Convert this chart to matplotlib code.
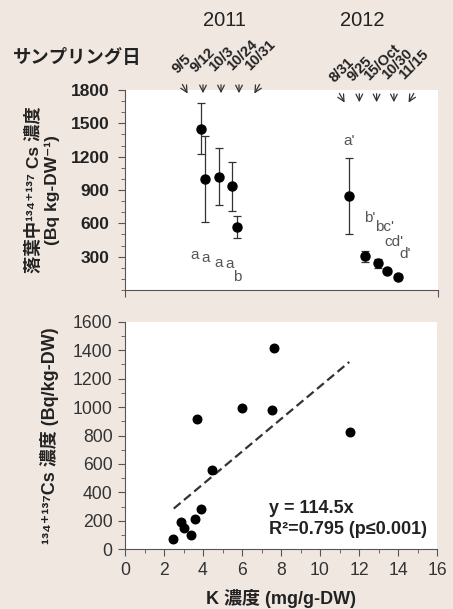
import numpy as np
import pandas as pd
import matplotlib
matplotlib.use('Agg')
import matplotlib.pyplot as plt
from matplotlib.ticker import MultipleLocator

plt.rcParams['font.family'] = ['Liberation Sans', 'Noto Sans CJK JP', 'DejaVu Sans']

# --- top panel data: litter Cs concentration by sampling date ---
dates_2011 = ['2011-09-05', '2011-09-12', '2011-10-03', '2011-10-24', '2011-10-31']
cs_2011 = [1450, 1000, 1020, 935, 570]
err_2011 = [230, 390, 255, 220, 100]
letters_2011 = ['a', 'a', 'a', 'a', 'b']
labels_2011 = ['9/5', '9/12', '10/3', '10/24', '10/31']

dates_2012 = ['2012-08-31', '2012-09-25', '2012-10-15', '2012-10-30', '2012-11-15']
cs_2012 = [845, 305, 240, 170, 120]
err_2012 = [340, 50, 40, 15, 25]
letters_2012 = ["a'", "b'", "bc'", "cd'", "d'"]
labels_2012 = ['8/31', '9/25', '15/Oct', '10/30', '11/15']

# --- bottom panel data: K vs Cs ---
k_conc = [2.45, 2.85, 3.0, 3.4, 3.6, 3.9, 3.7, 4.45, 6.0, 7.55, 7.65, 11.55]
cs_conc = [70, 190, 150, 100, 215, 280, 915, 560, 995, 980, 1415, 825]
slope = 114.5
fit_range = [2.5, 11.5]

BG = '#f0e7e1'
W, H = 453, 609
fx = lambda px: px / W
fy = lambda py: 1 - py / H

fig = plt.figure(figsize=(W / 100, H / 100), dpi=100, facecolor=BG)

# x position: day of year, 2012 shifted to sit right of 2011
gap = 234
x11 = pd.to_datetime(dates_2011).dayofyear.values
x12 = pd.to_datetime(dates_2012).dayofyear.values + gap

ax1 = fig.add_axes([fx(125), fy(290), fx(438) - fx(125), fy(90) - fy(290)])
ax1.set_facecolor('white')
for x, y, e in [(x11, cs_2011, err_2011), (x12, cs_2012, err_2012)]:
    ax1.errorbar(x, y, yerr=e, fmt='o', color='black', ms=6.5, ecolor='#333333',
                 elinewidth=0.9, capsize=3, capthick=0.9)
ax1.set_xlim(130, 617)
ax1.set_ylim(0, 1800)
ax1.yaxis.set_minor_locator(MultipleLocator(100))
ax1.set_yticks([300, 600, 900, 1200, 1500, 1800])
ax1.set_xticks([130, 617])
ax1.set_xticklabels([])
for s in ['top', 'right']:
    ax1.spines[s].set_visible(False)
for s in ['left', 'bottom']:
    ax1.spines[s].set_color('#555555')
ax1.tick_params(axis='both', which='major', direction='out', length=5, color='#555555',
                labelsize=12.5, labelcolor='#222222', pad=6)
ax1.tick_params(axis='y', which='minor', direction='out', length=3, color='#555555')
for t in ax1.get_yticklabels():
    t.set_fontweight('bold')
ax1.set_ylabel('落葉中¹³⁴⁺¹³⁷ Cs 濃度\n(Bq kg-DW⁻¹)', fontsize=12.5, fontweight='bold',
               labelpad=8, linespacing=1.2, color='#222222')

# significance letters
let_off_2011 = [(-6, 255), (0, 258), (0, 263), (-3, 264), (0, 277)]
for x, l, (dx, py) in zip(x11, letters_2011, let_off_2011):
    px = 201 + (x - x11[0]) * 0.643
    fig.text(fx(px + dx), fy(py), l, color='#555555', fontsize=11, ha='center', va='center')
let_pos_2012 = [(349, 141), (370, 218), (385, 227), (394, 242), (405, 254)]
for l, (px, py) in zip(letters_2012, let_pos_2012):
    fig.text(fx(px), fy(py), l, color='#555555', fontsize=11, ha='center', va='center')

# header
fig.text(fx(225), fy(20), '2011', fontsize=14.5, ha='center', va='center', color='#222222')
fig.text(fx(362), fy(20), '2012', fontsize=14.5, ha='center', va='center', color='#222222')
fig.text(fx(13), fy(58), 'サンプリング日', fontsize=13.2, fontweight='bold', ha='left', va='center',
         color='#222222')

# rotated date labels with arrows
for labels, x0, step, base in [(labels_2011, 185, 18, 76), (labels_2012, 342, 17.3, 85)]:
    n = len(labels)
    for i, lab in enumerate(labels):
        ax_ = x0 + step * i
        tilt = 8 if i == 0 else (-8 if i == n - 1 else 0)
        fig.text(fx(ax_ - 5), fy(base - i * 0.8), lab, fontsize=10.5, fontweight='bold',
                 rotation=45, rotation_mode='anchor', ha='left', va='bottom', color='#222222')
        fig.add_artist(matplotlib.patches.FancyArrowPatch(
            (fx(ax_ - tilt / 2), fy(base + 6)), (fx(ax_ + tilt / 2), fy(base + 20)),
            transform=fig.transFigure, arrowstyle='->', mutation_scale=12,
            color='#333333', lw=0.9))

# bottom panel
ax2 = fig.add_axes([fx(125), fy(549.3), fx(437) - fx(125), fy(321.7) - fy(549.3)])
ax2.set_facecolor('white')
ax2.scatter(k_conc, cs_conc, s=38, color='black', zorder=3)
xf = np.array(fit_range)
ax2.plot(xf, slope * xf, color='#333333', lw=1.6, ls=(0, (4, 2)))
ax2.set_xlim(0, 16)
ax2.set_ylim(0, 1600)
ax2.xaxis.set_major_locator(MultipleLocator(2))
ax2.xaxis.set_minor_locator(MultipleLocator(1))
ax2.yaxis.set_major_locator(MultipleLocator(200))
ax2.yaxis.set_minor_locator(MultipleLocator(100))
for s in ['top', 'right']:
    ax2.spines[s].set_visible(False)
for s in ['left', 'bottom']:
    ax2.spines[s].set_color('#555555')
ax2.tick_params(axis='both', which='major', direction='out', length=5, color='#555555',
                labelsize=12.7, labelcolor='#333333', pad=4)
ax2.tick_params(axis='both', which='minor', direction='out', length=3, color='#555555')
ax2.set_ylabel('¹³⁴⁺¹³⁷Cs 濃度 (Bq/kg-DW)', fontsize=13, fontweight='bold', labelpad=10,
               color='#222222')
ax2.set_xlabel('K 濃度 (mg/g-DW)', fontsize=13, fontweight='bold', labelpad=7, color='#222222')
ax2.text(7.4, 290, 'y = 114.5x', fontsize=13, fontweight='bold', va='center', color='#222222')
ax2.text(7.4, 140, 'R²=0.795 (p≤0.001)', fontsize=13, fontweight='bold', va='center',
         color='#222222')

fig.savefig('out.png', dpi=100, facecolor=BG)
